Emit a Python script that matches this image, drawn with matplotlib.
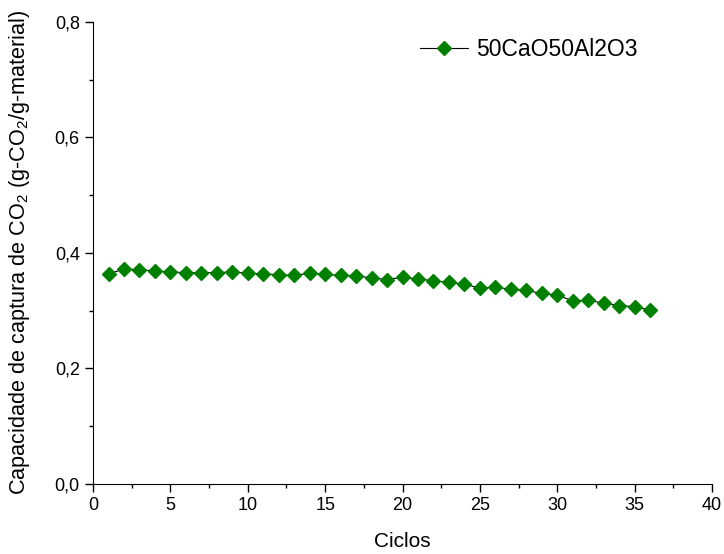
import matplotlib
matplotlib.use("Agg")
import matplotlib.pyplot as plt
from matplotlib.ticker import MultipleLocator, FuncFormatter

plt.rcParams["font.family"] = ["Liberation Sans", "DejaVu Sans"]
plt.rcParams["mathtext.default"] = "regular"

ciclos = list(range(1, 37))
capacidade = [
    0.364, 0.372, 0.371, 0.369, 0.367, 0.366, 0.366, 0.366, 0.367, 0.365,
    0.364, 0.362, 0.361, 0.365, 0.363, 0.361, 0.360, 0.357, 0.354, 0.358,
    0.355, 0.352, 0.349, 0.346, 0.339, 0.341, 0.337, 0.335, 0.330, 0.327,
    0.317, 0.318, 0.313, 0.309, 0.307, 0.301,
]
serie = "50CaO50Al2O3"

fig = plt.figure(figsize=(7.24, 5.54), dpi=100)
ax = fig.add_axes([0.1285, 0.1264, 0.855, 0.834])

ax.plot(ciclos, capacidade, color="black", lw=0.8, marker="D", ms=7.2,
        mfc="#008000", mec="#008000", label=serie)

ax.set_xlim(0, 40)
ax.set_ylim(0, 0.8)
ax.xaxis.set_major_locator(MultipleLocator(5))
ax.xaxis.set_minor_locator(MultipleLocator(2.5))
ax.yaxis.set_major_locator(MultipleLocator(0.2))
ax.yaxis.set_minor_locator(MultipleLocator(0.1))
ax.yaxis.set_major_formatter(FuncFormatter(lambda v, p: f"{v:.1f}".replace(".", ",")))

for side in ("top", "right"):
    ax.spines[side].set_visible(False)
ax.tick_params(which="major", direction="out", length=6, width=1, labelsize=13)
ax.tick_params(which="minor", direction="out", length=3, width=1)

ax.set_xlabel("Ciclos", fontsize=15)
ax.xaxis.set_label_coords(0.5, -0.105)
ax.set_ylabel("Capacidade de captura de CO$_2$ (g-CO$_2$/g-material)", fontsize=15.6)
ax.yaxis.set_label_coords(-0.098, 0.502)

ax.legend(loc="center left", bbox_to_anchor=(0.528, 0.94), frameon=False,
          fontsize=16.5, handlelength=2.1, handletextpad=0.35,
          borderpad=0, borderaxespad=0)

fig.savefig("out.png", dpi=100)
